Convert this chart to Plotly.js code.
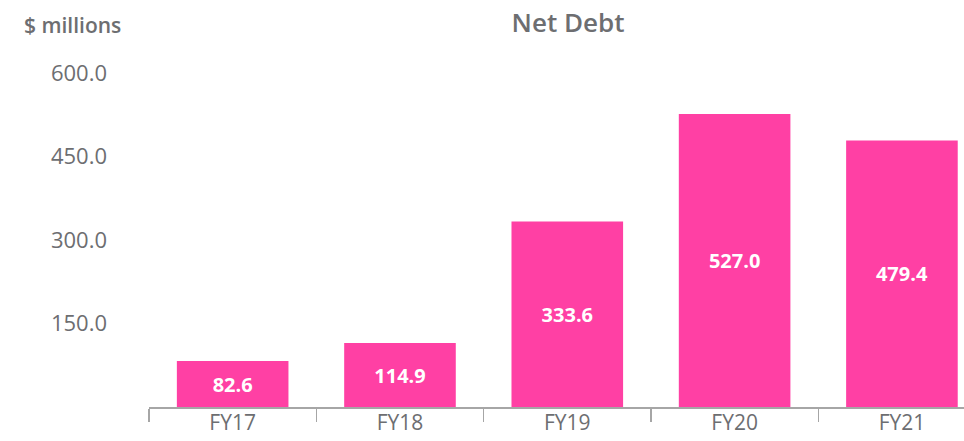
<!DOCTYPE html>
<html>
<head>
<meta charset="utf-8">
<script src="https://cdn.plot.ly/plotly-3.0.1.min.js"></script>
<style>html,body{margin:0;padding:0;background:#fff;}#chart{width:964px;height:441px;}</style>
</head>
<body>
<div id="chart"></div>
<script>
var categories = ["FY17", "FY18", "FY19", "FY20", "FY21"];
var netDebt = [82.6, 114.9, 333.6, 527.0, 479.4];
var valueLabels = ["82.6", "114.9", "333.6", "527.0", "479.4"];
var yTickVals = [150, 300, 450, 600];
var yTickText = ["150.0", "300.0", "450.0", "600.0"];

var gray = "#6d6e71";
var fontFam = "'Open Sans', sans-serif";

var trace = {
  type: "bar",
  x: categories,
  y: netDebt,
  text: valueLabels,
  textposition: "inside",
  insidetextanchor: "middle",
  textangle: 0,
  textfont: {family: fontFam, size: 20, color: "#ffffff", weight: 700},
  marker: {color: "#ff40a4"},
  width: 0.667,
  hoverinfo: "skip"
};

var layout = {
  width: 964,
  height: 441,
  margin: {l: 149, r: 0, t: 40, b: 34},
  paper_bgcolor: "#ffffff",
  plot_bgcolor: "#ffffff",
  showlegend: false,
  font: {family: fontFam, color: gray},
  title: {
    text: "Net Debt",
    font: {family: fontFam, size: 26, color: gray, weight: 600},
    xref: "container", x: 568 / 964, xanchor: "center",
    yref: "container", y: 1 - 23 / 441, yanchor: "middle"
  },
  xaxis: {
    type: "category",
    range: [-0.5, 4.371],
    showline: true,
    linecolor: "#a6a6a6",
    linewidth: 1.5,
    ticks: "outside",
    tickson: "boundaries",
    ticklen: 13,
    tickcolor: "#a6a6a6",
    tickwidth: 1.5,
    showgrid: false,
    zeroline: false,
    ticklabelstandoff: -4,
    tickfont: {family: fontFam, size: 21, color: gray},
    fixedrange: true
  },
  yaxis: {
    range: [0, 660],
    tickmode: "array",
    tickvals: yTickVals,
    ticktext: yTickText,
    showgrid: false,
    zeroline: false,
    showline: false,
    ticks: "",
    ticklabelstandoff: 41,
    tickfont: {family: fontFam, size: 22, color: gray},
    fixedrange: true
  },
  annotations: [{
    text: "$ millions",
    xref: "paper", yref: "paper",
    x: (22 - 149) / 815, xanchor: "left",
    y: (406.7 - 25) / 367, yanchor: "middle",
    showarrow: false,
    font: {family: fontFam, size: 21, color: gray, weight: 600}
  }]
};

Plotly.newPlot("chart", [trace], layout, {displayModeBar: false, staticPlot: true});
</script>
</body>
</html>
